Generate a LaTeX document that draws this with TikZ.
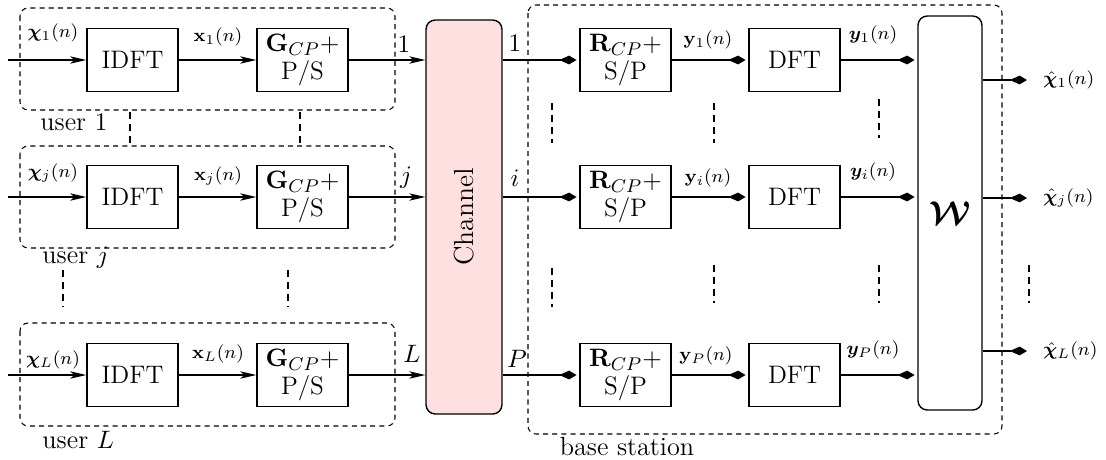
\documentclass[tikz,border=0pt]{standalone}
\usepackage{amsmath,amssymb,bm}
\usetikzlibrary{arrows.meta,calc}
\definecolor{chanfill}{RGB}{255,224,224}
\tikzset{
  blk/.style={draw,line width=0.6pt,minimum width=39.6pt,minimum height=27.4pt,inner sep=0pt,align=center,font=\fontsize{11}{12}\selectfont},
  grp/.style={draw,line width=0.45pt,dash pattern=on 2.2pt off 1.8pt,rounded corners=3.5pt},
  vdots/.style={line width=0.5pt,dash pattern=on 3pt off 2.2pt},
  larr/.style={line width=0.6pt,-{Stealth[length=7pt,width=3.2pt,inset=1.8pt]}},
  karr/.style={line width=0.6pt,-{Kite[length=7.5pt,width=3.8pt,inset=4.3pt]},shorten >=1.2pt},
  lbl/.style={font=\fontsize{8.5}{10}\selectfont,inner sep=0pt},
  grplbl/.style={inner sep=0pt,font=\fontsize{11.4}{13}\selectfont},
}
\begin{document}
\begin{tikzpicture}[x=0.4348pt,y=-0.4348pt]
\useasboundingbox (0,0) rectangle (1106,459);
% user groups
\draw[grp] (20,8) rectangle (395,110);
\draw[grp] (20,146) rectangle (395,248);
\draw[grp] (20,323) rectangle (395,426);
\node[grplbl,anchor=west] (u1) at (40,123) {user $1$};
\node[grplbl,anchor=west] (uj) at (42,258) {user $j$};
\node[grplbl,anchor=west] (uL) at (42,440) {user $L$};
% base station group
\draw[grp] (528,5) rectangle (1002,434);
\node[grplbl] (bs) at (627,447) {base station};
% channel and W
\node[draw,line width=0.6pt,fill=chanfill,rounded corners=4pt,minimum width=33pt,minimum height=171.3pt,inner sep=0pt] (chan) at (464,217) {};
\node[rotate=90,font=\large] (chant) at (464,217) {Channel};
\node[draw,line width=0.6pt,rounded corners=4pt,minimum width=27.8pt,minimum height=171.3pt,inner sep=0pt] (W) at (950,213) {};
\node[font=\Large] (Wt) at (950,213) {$\bm{\mathcal{W}}$};
% rows
\foreach \r/\yy in {1/60, j/197, L/375}{
  \coordinate (in\r) at (8,\yy);
  \node[blk] (idft\r) at (132.5,\yy) {IDFT};
  \node[blk] (g\r) at (302.5,\yy) {$\mathbf{G}_{CP}+$\\P/S};
  \draw[larr] (in\r) -- (idft\r);
  \draw[larr] (idft\r) -- (g\r);
  \draw[larr] (g\r.east) -- (g\r.east -| chan.west);
}
\foreach \r/\yy in {1/60, i/197, P/375}{
  \node[blk] (rc\r) at (625.5,\yy) {$\mathbf{R}_{CP}+$\\S/P};
  \node[blk] (dft\r) at (794.5,\yy) {DFT};
  \draw[karr] (rc\r.west -| chan.east) -- (rc\r);
  \draw[karr] (rc\r) -- (dft\r);
  \draw[karr] (dft\r.east) -- (dft\r.east -| W.west);
}
\foreach \r/\yy in {1/80, j/198, L/351}{
  \coordinate (out\r) at (1027,\yy);
  \draw[karr,shorten >=0pt] (W.east |- out\r) -- (out\r);
}
% labels left
\node[lbl] (lc1) at (53,33) {$\bm{\chi}_1(n)$};
\node[lbl] (lcj) at (53,173) {$\bm{\chi}_j(n)$};
\node[lbl] (lcL) at (53,360) {$\bm{\chi}_L(n)$};
\node[lbl] (lx1) at (218,37) {$\mathbf{x}_1(n)$};
\node[lbl] (lxj) at (218,176) {$\mathbf{x}_j(n)$};
\node[lbl] (lxL) at (218,354) {$\mathbf{x}_L(n)$};
\node[grplbl] (o1) at (404,44) {$1$};
\node[grplbl] (oj) at (406,178) {$j$};
\node[grplbl] (oL) at (412,354) {$L$};
% labels right
\node[grplbl] (c1) at (515,43) {$1$};
\node[grplbl] (ci) at (515,178) {$i$};
\node[grplbl] (cP) at (517,359) {$P$};
\node[lbl] (ly1) at (708,40) {$\mathbf{y}_1(n)$};
\node[lbl] (lyi) at (708,178) {$\mathbf{y}_i(n)$};
\node[lbl] (lyP) at (706,356) {$\mathbf{y}_P(n)$};
\node[lbl] (lY1) at (873,35) {$\bm{y}_1(n)$};
\node[lbl] (lYi) at (873,172) {$\bm{y}_i(n)$};
\node[lbl] (lYP) at (873,350) {$\bm{y}_P(n)$};
\node[lbl,anchor=west] (h1) at (1043,80) {$\hat{\bm{\chi}}_1(n)$};
\node[lbl,anchor=west] (hj) at (1043,198) {$\hat{\bm{\chi}}_j(n)$};
\node[lbl,anchor=west] (hL) at (1043,351) {$\hat{\bm{\chi}}_L(n)$};
% dashed continuation marks
\draw[vdots] (130,112) -- (130,145);
\draw[vdots] (300,112) -- (300,145);
\draw[vdots] (63,270) -- (63,307);
\draw[vdots] (288,270) -- (288,307);
\draw[vdots] (552,103) -- (552,143);
\draw[vdots] (714,103) -- (714,143);
\draw[vdots] (879,99) -- (879,138);
\draw[vdots] (552,268) -- (552,307);
\draw[vdots] (714,265) -- (714,303);
\draw[vdots] (879,265) -- (879,303);
\draw[vdots] (1029,265) -- (1029,303);
\end{tikzpicture}
\end{document}
